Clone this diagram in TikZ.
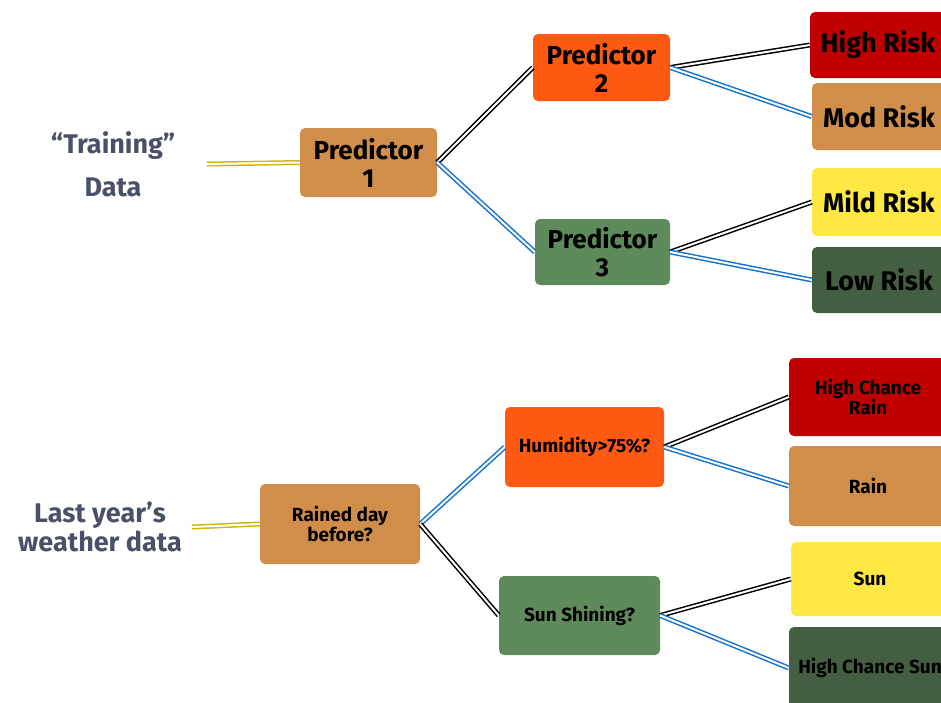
\documentclass[tikz,border=0pt]{standalone}
\usepackage{fontspec}
\setmainfont{Fira Sans}
\definecolor{tan}{HTML}{D08E4A}
\definecolor{orng}{HTML}{FF5A14}
\definecolor{sage}{HTML}{5F8B5C}
\definecolor{red}{HTML}{C00000}
\definecolor{yel}{HTML}{FFE843}
\definecolor{dgreen}{HTML}{445E41}
\definecolor{slate}{HTML}{4B5069}
\definecolor{blu}{HTML}{1573C9}
\definecolor{gold}{HTML}{CDB70A}
\begin{document}
\begin{tikzpicture}[x=1pt,y=-1pt,
  box/.style={rectangle,rounded corners=5pt,align=center,inner sep=0pt,font=\bfseries\fontsize{26}{28}\selectfont},
  leaf/.style={box,font=\bfseries\fontsize{27}{30}\selectfont},
  sbox/.style={box,font=\bfseries\fontsize{19}{20}\selectfont},
  lbl/.style={align=center,text=slate,font=\bfseries\fontsize{27}{32}\selectfont},
  dblk/.style={draw=black,double=white,double distance=2pt,line width=1.5pt},
  dblu/.style={draw=blu,double=white,double distance=2pt,line width=1.5pt},
  dyel/.style={draw=gold,double=white,double distance=2pt,line width=1.5pt}]
\path[use as bounding box,clip] (0,0) rectangle (941,702);
% top tree
\node[box,fill=tan,minimum width=137pt,minimum height=69pt] (p1) at (368.5,162.5) {Predictor\\1};
\node[box,fill=orng,minimum width=137pt,minimum height=67pt] (p2) at (601.5,67.5) {Predictor\\2};
\node[box,fill=sage,minimum width=135pt,minimum height=66pt] (p3) at (602.5,252) {Predictor\\3};
\node[leaf,fill=red,minimum width=136pt,minimum height=66pt] (hr) at (878,45) {High Risk};
\node[leaf,fill=tan,minimum width=134pt,minimum height=67pt] (mr) at (879,116.5) {Mod Risk};
\node[leaf,fill=yel,minimum width=134pt,minimum height=68pt] (mi) at (879,202) {Mild Risk};
\node[leaf,fill=dgreen,minimum width=134pt,minimum height=66pt] (lr) at (879,280) {Low Risk};
\node[lbl] (td) at (113,164) {“Training”\\[11pt]Data};
\coordinate (ty) at (207,164);
\draw[dyel] (ty) -- (p1.west);
\draw[dblk] (p1.east) -- (p2.west);
\draw[dblu] (p1.east) -- (p3.west);
\draw[dblk] (p2.east) -- (hr.west);
\draw[dblu] (p2.east) -- (mr.west);
\draw[dblk] (p3.east) -- (mi.west);
\draw[dblu] (p3.east) -- (lr.west);
% bottom tree
\node[sbox,fill=tan,minimum width=160pt,minimum height=80pt] (rd) at (340,524) {Rained day\\before?};
\node[sbox,fill=orng,minimum width=159pt,minimum height=80pt] (hu) at (584.5,447) {Humidity>75\%?};
\node[sbox,fill=sage,minimum width=161pt,minimum height=79pt] (ss) at (579.5,615.5) {Sun Shining?};
\node[sbox,fill=red,minimum width=158pt,minimum height=78pt] (hcr) at (868,397) {High Chance\\Rain};
\node[sbox,fill=tan,minimum width=158pt,minimum height=80pt] (rn) at (868,486) {Rain};
\node[sbox,fill=yel,minimum width=158pt,minimum height=74pt] (sn) at (870,579) {Sun};
\node[sbox,fill=dgreen,minimum width=162pt,minimum height=82pt] (hcs) at (870,668) {High Chance Sun};
\node[lbl,font=\bfseries\fontsize{27}{29}\selectfont] (ly) at (100,527) {Last year’s\\weather data};
\coordinate (by) at (192,527);
\draw[dyel] (by) -- (rd.west);
\draw[dblu] (rd.east) -- (hu.west);
\draw[dblk] (rd.east) -- (ss.west);
\draw[dblk] (hu.east) -- (hcr.west);
\draw[dblu] (hu.east) -- (rn.west);
\draw[dblk] (ss.east) -- (sn.west);
\draw[dblu] (ss.east) -- (hcs.west);
\end{tikzpicture}
\end{document}
